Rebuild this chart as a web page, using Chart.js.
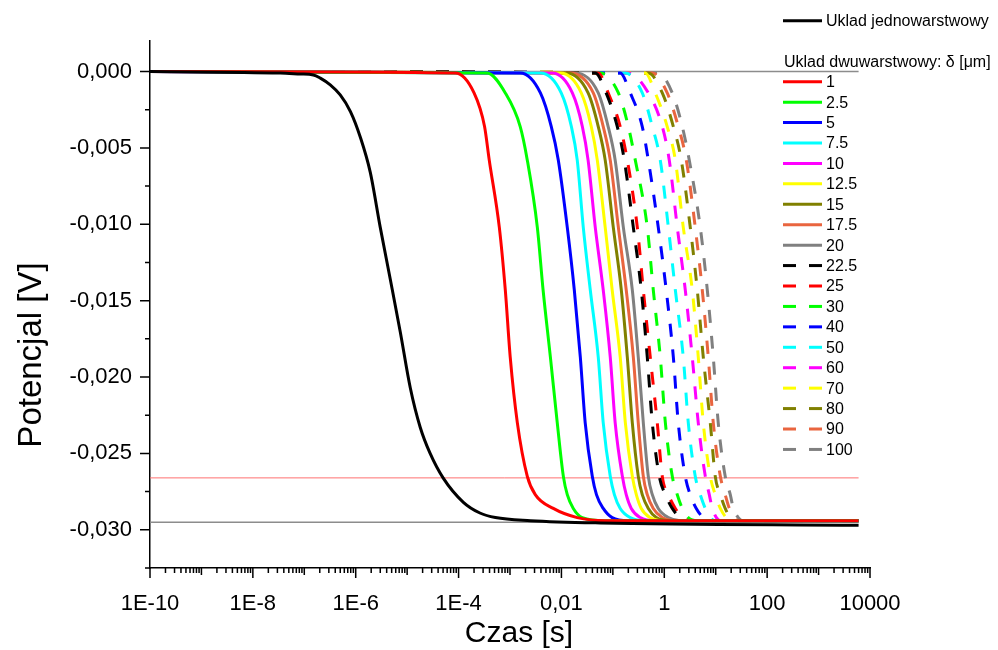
<!DOCTYPE html>
<html>
<head>
<meta charset="utf-8">
<script src="https://cdn.jsdelivr.net/npm/chart.js@4.4.1/dist/chart.umd.min.js"></script>
<style>
html,body{margin:0;padding:0;background:#fff;}
#wrap{width:998px;height:650px;position:relative;}
</style>
</head>
<body>
<div id="wrap"><canvas id="c" width="998" height="650"></canvas></div>
<script>
// ---------- DATA ----------
// Single-layer system (Uklad jednowarstwowy): time [s] and potential [V]
const tSingle = [1e-10, 3.4e-8, 8.4e-8, 1.5e-7, 2.05e-7, 3.2e-7, 5.0e-7, 7.9e-7, 1.23e-6, 1.92e-6, 3.0e-6, 4.7e-6, 7.4e-6, 1.15e-5, 1.8e-5, 2.8e-5, 5.0e-5, 1.24e-4, 2.6e-4, 5.2e-4, 2.5e-3, 5.7e-2, 6000];
const vSingle = [0, -0.0001, -0.00016, -0.00022, -0.00043, -0.00087, -0.00153, -0.00262, -0.0043, -0.0066, -0.0102, -0.0136, -0.0171, -0.0207, -0.0233, -0.0250, -0.0266, -0.0282, -0.0289, -0.0292, -0.0294, -0.02955, -0.0297];

// Two-layer system: potential levels [V] and the time [s] each curve reaches them
const levels = [-0.0001, -0.0014, -0.0036, -0.0058, -0.0102, -0.0143, -0.0187, -0.0230, -0.0265, -0.0277, -0.0286, -0.0292, -0.0294];
const tStart = 1e-10;   // first time of every record (potential 0)
const tEnd = 6000;      // last time of every record
const deltas = ['1', '2.5', '5', '7.5', '10', '12.5', '15', '17.5', '20', '22.5', '25', '30', '40', '50', '60', '70', '80', '90', '100'];
const t_1    = [8.6e-5, 2.0e-4, 3.2e-4, 3.95e-4, 6.2e-4, 8.1e-4, 1.01e-3, 1.39e-3, 2.17e-3, 3.1e-3, 6.95e-3, 2.03e-2, 7.1e-2];
const t_2_5  = [3.6e-4, 8.1e-4, 1.58e-3, 2.17e-3, 3.4e-3, 4.4e-3, 6.1e-3, 8.3e-3, 1.09e-2, 1.3e-2, 1.7e-2, 2.55e-2, 7.1e-2];
const t_5    = [1.58e-3, 3.9e-3, 6.35e-3, 8.7e-3, 1.3e-2, 1.78e-2, 2.33e-2, 2.9e-2, 3.98e-2, 4.8e-2, 6.5e-2, 9.7e-2, 0.2];
const t_7_5  = [3.9e-3, 9.9e-3, 1.56e-2, 2.03e-2, 2.66e-2, 3.64e-2, 5.2e-2, 6.5e-2, 8.9e-2, 0.107, 0.139, 0.218, 0.427];
const t_10   = [6.6e-3, 1.63e-2, 2.55e-2, 3.3e-2, 4.55e-2, 6.5e-2, 8.9e-2, 0.111, 0.153, 0.182, 0.228, 0.341, 0.668];
const t_12_5 = [9.5e-3, 2.43e-2, 3.8e-2, 4.98e-2, 7.1e-2, 9.7e-2, 0.139, 0.175, 0.239, 0.286, 0.357, 0.534, 0.914];
const t_15   = [1.24e-2, 3.3e-2, 5.2e-2, 7.1e-2, 0.102, 0.146, 0.191, 0.239, 0.312, 0.373, 0.489, 0.699, 1.2];
const t_17_5 = [1.49e-2, 4.16e-2, 6.5e-2, 8.9e-2, 0.128, 0.182, 0.25, 0.312, 0.391, 0.467, 0.611, 0.914, 1.43];
const t_20   = [1.86e-2, 5.2e-2, 8.1e-2, 0.111, 0.16, 0.239, 0.312, 0.391, 0.489, 0.585, 0.764, 1.2, 2.05];
const t_22_5 = [4.55e-2, 7.4e-2, 0.122, 0.167, 0.25, 0.357, 0.467, 0.585, 0.8, 1.05, 1.43, 2.05, 3.2];
const t_25   = [5.2e-2, 8.1e-2, 0.139, 0.191, 0.299, 0.391, 0.534, 0.731, 0.914, 1.2, 1.64, 2.24, 3.2];
const t_30   = [5.7e-2, 0.128, 0.2, 0.273, 0.467, 0.611, 0.836, 1.05, 1.43, 1.79, 2.24, 2.93, 4.38];
const t_40   = [0.139, 0.218, 0.373, 0.489, 0.764, 1.09, 1.5, 1.87, 2.56, 3.2, 4.19, 5.73, 7.84];
const t_50   = [0.175, 0.373, 0.585, 0.836, 1.2, 1.64, 2.34, 2.93, 4.0, 5.01, 6.27, 7.84, 9.8];
const t_60   = [0.2, 0.489, 0.914, 1.25, 1.79, 2.56, 3.5, 4.58, 6.27, 7.5, 8.58, 10.3, 12.3];
const t_70   = [0.427, 0.668, 1.14, 1.64, 2.34, 3.5, 4.58, 5.73, 7.84, 9.8, 12.3, 16.1, 22.0];
const t_80   = [0.489, 0.914, 1.5, 2.14, 3.2, 4.38, 5.73, 7.84, 9.8, 12.3, 15.3, 19.2, 24.0];
const t_90   = [0.585, 1.14, 1.87, 2.68, 4.0, 5.48, 7.17, 8.97, 12.3, 15.3, 18.4, 23.0, 27.5];
const t_100  = [0.764, 1.43, 2.24, 3.06, 5.01, 6.86, 8.97, 11.2, 15.3, 19.2, 22.0, 27.5, 32.9];
const twoLayerTimes = [t_1, t_2_5, t_5, t_7_5, t_10, t_12_5, t_15, t_17_5, t_20, t_22_5, t_25, t_30, t_40, t_50, t_60, t_70, t_80, t_90, t_100];

// Horizontal reference lines [V]
const refTimes = [1e-10, 6000];
const refZero = [0, 0];
const refFinal = [-0.0295, -0.0295];
const refRed = [-0.0266, -0.0266];

// Axis tick labels
const xTickLabels = {'-10': '1E-10', '-8': '1E-8', '-6': '1E-6', '-4': '1E-4', '-2': '0,01', '0': '1', '2': '100', '4': '10000'};

// ---------- STYLE ----------
const colors = ['#ff0000', '#00ff00', '#0000ff', '#00ffff', '#ff00ff', '#ffff00', '#808000', '#e9653f', '#808080',
                '#000000', '#ff0000', '#00ff00', '#0000ff', '#00ffff', '#ff00ff', '#ffff00', '#808000', '#e9653f', '#808080'];
const DASH = [13, 13];
const FONT = '"Liberation Sans", Arial, sans-serif';

const pts = (xs, ys) => xs.map((x, i) => ({x: x, y: ys[i]}));

const datasets = [];
datasets.push({label: 'Uklad jednowarstwowy', data: pts(tSingle, vSingle), borderColor: '#000000', borderWidth: 3, legend: true});
twoLayerTimes.forEach((ts, i) => {
  const data = [{x: tStart, y: 0}].concat(pts(ts, levels), [{x: tEnd, y: levels[levels.length - 1]}]);
  datasets.push({label: deltas[i], data: data, borderColor: colors[i], borderWidth: 3,
                 borderDash: i >= 9 ? DASH : [], legend: true});
});
datasets.push({label: 'ref0', data: pts(refTimes, refZero), borderColor: '#8c8c8c', borderWidth: 1.5, legend: false});
datasets.push({label: 'refRed', data: pts(refTimes, refRed), borderColor: '#ff7070', borderWidth: 1, legend: false});
datasets.push({label: 'refEnd', data: pts(refTimes, refFinal), borderColor: '#8c8c8c', borderWidth: 1.5, legend: false});

const decor = {
  id: 'decor',
  afterDraw(chart) {
    const ctx = chart.ctx, xs = chart.scales.x, ys = chart.scales.y, a = chart.chartArea;
    ctx.save();
    // tick marks
    ctx.strokeStyle = '#000'; ctx.lineWidth = 1.5;
    ctx.beginPath();
    for (let e = -10; e <= 4; e++) {
      for (let m = 1; m <= 9; m++) {
        const v = m * Math.pow(10, e);
        if (v > 1.0001e4) break;
        const px = xs.getPixelForValue(v);
        const len = m === 1 ? (e % 2 === 0 ? 10 : 7) : 5;
        ctx.moveTo(px, a.bottom); ctx.lineTo(px, a.bottom + len);
      }
    }
    for (let k = 0; k <= 13; k++) {
      const py = ys.getPixelForValue(-0.0025 * k);
      const len = k % 2 === 0 ? 10 : 5;
      ctx.moveTo(a.left - len, py); ctx.lineTo(a.left, py);
    }
    ctx.stroke();
    // axis titles
    ctx.fillStyle = '#000';
    ctx.textAlign = 'center'; ctx.textBaseline = 'middle';
    ctx.font = '30px ' + FONT;
    ctx.fillText('Czas [s]', 519, 634);
    ctx.save();
    ctx.font = '33px ' + FONT;
    ctx.translate(32, 355); ctx.rotate(-Math.PI / 2);
    ctx.fillText('Potencjal [V]', 0, 0);
    ctx.restore();
    // legend
    ctx.font = '16px ' + FONT;
    ctx.textAlign = 'left'; ctx.textBaseline = 'middle';
    const ds = chart.data.datasets.filter(d => d.legend);
    const drawSample = (d, y) => {
      ctx.save();
      ctx.strokeStyle = d.borderColor; ctx.lineWidth = 3;
      ctx.setLineDash(d.borderDash || []);
      ctx.beginPath(); ctx.moveTo(783, y); ctx.lineTo(822, y); ctx.stroke();
      ctx.restore();
      ctx.fillText(d.label, 826, y + 1);
    };
    drawSample(ds[0], 20.7);
    ctx.fillText('Uklad dwuwarstwowy: \u03b4 [\u03bcm]', 784, 63);
    for (let i = 1; i < ds.length; i++) drawSample(ds[i], 81.7 + (i - 1) * 20.43);
    ctx.restore();
  }
};

Chart.defaults.font.family = FONT;
Chart.defaults.color = '#000';

new Chart(document.getElementById('c'), {
  type: 'scatter',
  data: {datasets: datasets},
  options: {
    responsive: false,
    devicePixelRatio: 1,
    animation: false,
    showLine: true,
    layout: {padding: {left: 0, right: 128, top: 41, bottom: 0}},
    elements: {
      point: {radius: 0, hoverRadius: 0},
      line: {cubicInterpolationMode: 'monotone', borderCapStyle: 'butt', fill: false}
    },
    plugins: {legend: {display: false}, tooltip: {enabled: false}},
    scales: {
      x: {
        type: 'logarithmic', position: 'bottom', min: 1e-10, max: 1e4,
        grid: {display: false, drawTicks: false},
        border: {display: true, color: '#000', width: 1.5},
        afterFit(s) { s.height = 82; },
        ticks: {
          autoSkip: false, maxRotation: 0, padding: 23, font: {size: 22}, color: '#000',
          callback(v) {
            const e = Math.log10(v), r = Math.round(e);
            if (Math.abs(e - r) < 1e-6 && xTickLabels[String(r)] !== undefined) return xTickLabels[String(r)];
            return '';
          }
        }
      },
      y: {
        type: 'linear', min: -0.0325, max: 0.002,
        grid: {display: false, drawTicks: false},
        border: {display: true, color: '#000', width: 1.5},
        afterFit(s) { s.width = 150; },
        ticks: {
          stepSize: 0.0025, padding: 18, font: {size: 22}, color: '#000', autoSkip: false,
          callback(v) {
            const k = v / 0.005;
            if (Math.abs(k - Math.round(k)) < 1e-6 && v < 1e-9) {
              const vv = Math.abs(v) < 1e-9 ? 0 : v;
              return vv.toFixed(3).replace('.', ',');
            }
            return '';
          }
        }
      }
    }
  },
  plugins: [decor]
});
</script>
</body>
</html>
